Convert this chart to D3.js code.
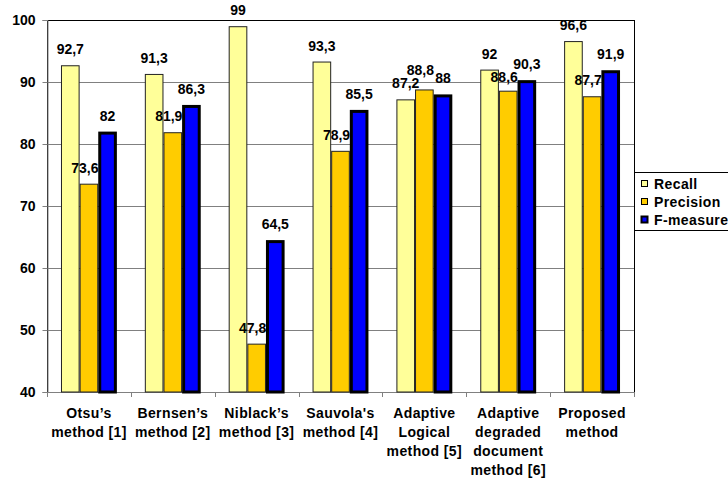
<!DOCTYPE html>
<html><head><meta charset="utf-8">
<script src="https://cdn.jsdelivr.net/npm/d3@7"></script>
<style>body{margin:0;background:#fff}svg{display:block}text{font-family:Arial,"Liberation Sans",sans-serif;font-weight:bold;fill:#000}</style>
</head><body>
<script>
const categories = [["Otsu’s","method [1]"],["Bernsen’s","method [2]"],["Niblack’s","method [3]"],["Sauvola's","method [4]"],["Adaptive","Logical","method [5]"],["Adaptive","degraded","document","method [6]"],["Proposed","method"]];
const seriesNames = ["Recall","Precision","F-measure"];
const recall = [92.7,91.3,99,93.3,87.2,92,96.6];
const precision = [73.6,81.9,47.8,78.9,88.8,88.6,87.7];
const fmeasure = [82,86.3,64.5,85.5,88,90.3,91.9];
const yTicks = [40,50,60,70,80,90,100];
const colors = ["#FFFF99","#FFCC00","#0000FF"];

const W=728,H=480;
const svg=d3.select("body").append("svg").attr("width",W).attr("height",H);
svg.append("rect").attr("width",W).attr("height",H).attr("fill","#fff");
const L=47,R=634,T=20,B=392;
const x=d3.scaleBand().domain(d3.range(categories.length)).range([L,R]).padding(0);
const y=d3.scaleLinear().domain([40,100]).range([B,T]);
const bw=x.bandwidth();
const xs=d3.scaleBand().domain(d3.range(3)).range([bw*0.75/4.5, bw-bw*0.75/4.5]).padding(0);

// gridlines
svg.append("g").selectAll("line").data(yTicks.filter(t=>t>40&&t<100)).join("line")
 .attr("x1",L).attr("x2",R).attr("y1",d=>y(d)+0.5).attr("y2",d=>y(d)+0.5).attr("stroke","#808080").attr("stroke-width",1);
// plot border
svg.append("rect").attr("x",L+0.5).attr("y",T+0.5).attr("width",R-L).attr("height",B-T).attr("fill","none").attr("stroke","#000").attr("stroke-width",1);

// y axis
const yAxis=d3.axisLeft(y).tickValues(yTicks).tickSize(5).tickPadding(7);
const ya=svg.append("g").attr("transform",`translate(${L+0.5},0)`).call(yAxis);
ya.select(".domain").attr("stroke","#808080");
ya.selectAll(".tick line").attr("stroke","#808080");
ya.selectAll("text").style("font-size","14px").style("font-family","Arial,'Liberation Sans',sans-serif").style("font-weight","bold").attr("fill","#000");

// x axis ticks at category boundaries
const xa=svg.append("g");
xa.append("line").attr("x1",L).attr("x2",R).attr("y1",B+0.5).attr("y2",B+0.5).attr("stroke","#808080");
xa.selectAll("line.t").data(d3.range(categories.length+1)).join("line").attr("class","t")
 .attr("x1",i=>Math.round(L+i*bw)+0.5).attr("x2",i=>Math.round(L+i*bw)+0.5).attr("y1",B).attr("y2",B+5).attr("stroke","#808080");
const xl=xa.selectAll("text").data(categories).join("text")
 .attr("text-anchor","middle").style("font-size","14px").style("letter-spacing","0.4px");
xl.each(function(lines,i){
  const t=d3.select(this);
  lines.forEach((s,j)=>t.append("tspan").attr("x",x(i)+bw/2).attr("y",418+j*19).text(s));
});

const all=[recall,precision,fmeasure];
const fmt=v=>String(v).replace(".",",");
const labelShift=[0,-4,0];

// label placement with simple collision avoidance inside each group
const placed=categories.map(()=>[]);
const labelPos=all.map(()=>[]);
[0,2,1].forEach(s=>{
  all[s].forEach((v,i)=>{
    const cx=x(i)+xs(s)+xs.bandwidth()/2+labelShift[s];
    const w=fmt(v).length*7.2;
    const boxH=13;
    const maxCy=y(v)-8;
    let cy=y(v)-16;
    let guard=0, moved=true;
    while(moved && guard++<20){
      moved=false;
      for(const p of placed[i]){
        if(Math.abs(p.cx-cx)<(p.w+w)/2 && Math.abs(p.cy-cy)<boxH){
          if(cy>p.cy && p.cy+boxH<=maxCy) cy=p.cy+boxH; else cy=p.cy-boxH;
          moved=true;
        }
      }
    }
    placed[i].push({cx,cy,w});
    labelPos[s][i]={cx,cy};
  });
});

all.forEach((vals,s)=>{
  const g=svg.append("g");
  const thick = s===2;
  g.selectAll("rect").data(vals).join("rect")
   .attr("x",(d,i)=>x(i)+xs(s)+(thick?1.5:0.5))
   .attr("y",d=>y(d)+(thick?1.5:0.5))
   .attr("width",xs.bandwidth()-(thick?3:1))
   .attr("height",d=>B-y(d)-(thick?1.5:0.5))
   .attr("fill",colors[s]).attr("stroke",thick?"#000":"#222").attr("stroke-width",thick?3:1);
  g.selectAll("text").data(vals).join("text")
   .attr("x",(d,i)=>labelPos[s][i].cx)
   .attr("y",(d,i)=>labelPos[s][i].cy+5)
   .attr("text-anchor","middle").style("font-size","14px").text(fmt);
});

// legend
const lg=svg.append("g");
lg.append("rect").attr("x",634.5).attr("y",172.5).attr("width",120).attr("height",58).attr("fill","#fff").attr("stroke","#000");
seriesNames.forEach((n,i)=>{
  const yy=184+i*18;
  lg.append("rect").attr("x",641.5).attr("y",yy-3.5).attr("width",6).attr("height",6)
    .attr("fill",colors[i]).attr("stroke","#000").attr("stroke-width",i===2?2:1);
  lg.append("text").attr("x",654).attr("y",yy+5).style("font-size","14px").style("letter-spacing","0.4px").text(n);
});
</script>
</body></html>
